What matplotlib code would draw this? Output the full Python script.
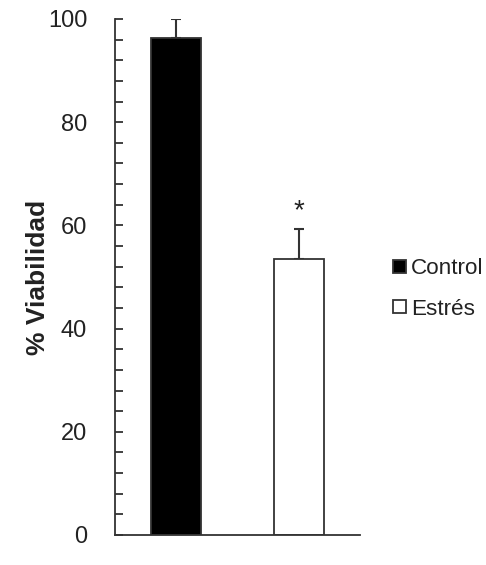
import matplotlib
matplotlib.use("Agg")
import matplotlib.pyplot as plt
from matplotlib.ticker import MultipleLocator

categories = ["Control", "Estrés"]
values = [96.3, 53.5]
errors = [3.7, 5.8]
colors = ["#000000", "#ffffff"]
yticks = [0, 20, 40, 60, 80, 100]

plt.rcParams['font.family'] = ['Liberation Sans', 'DejaVu Sans']

fig = plt.figure(figsize=(4.86, 5.65), dpi=100, facecolor="white")
ax = fig.add_axes([0.2366, 0.0531, 0.504, 0.9133])

x = list(range(len(categories)))
bars = ax.bar(x, values, width=0.41, color=colors, edgecolor="#333333",
              linewidth=1.3, label=categories, zorder=2)
ax.errorbar(x, values, yerr=[[0, 0], errors], fmt="none", ecolor="#333333",
            elinewidth=1.5, capsize=3.5, capthick=1.5, zorder=1)

ax.text(1, values[1] + errors[1] + 1.0, "*", ha="center", va="bottom",
        fontsize=20, color="#222222")

ax.set_xlim(-0.5, 1.5)
ax.set_ylim(0, 100)
ax.set_yticks(yticks)
ax.yaxis.set_minor_locator(MultipleLocator(4))
ax.set_xticks([])
for s in ["top", "right"]:
    ax.spines[s].set_visible(False)
for s in ["left", "bottom"]:
    ax.spines[s].set_color("#333333")
    ax.spines[s].set_linewidth(1.3)
ax.tick_params(axis="y", which="both", direction="in", color="#333333",
               width=1.3, labelsize=17, pad=20, labelcolor="#222222")
ax.tick_params(axis="y", which="major", length=6)
ax.tick_params(axis="y", which="minor", length=6)

ax.set_ylabel("% Viabilidad", fontsize=19, fontweight="bold", color="#222222")
ax.yaxis.label.set_va("center")
ax.yaxis.set_label_coords((38 - 115) / 245, 0.5)

leg = fig.legend(handles=bars, labels=categories, loc="center left",
                 bbox_to_anchor=(382 / 486, 1 - 289 / 565), frameon=False,
                 fontsize=16.2, handlelength=0.55, handleheight=0.55,
                 handletextpad=0.25, labelspacing=0.86, borderpad=0,
                 labelcolor="#222222")

fig.savefig("out.png", dpi=100, facecolor="white")
